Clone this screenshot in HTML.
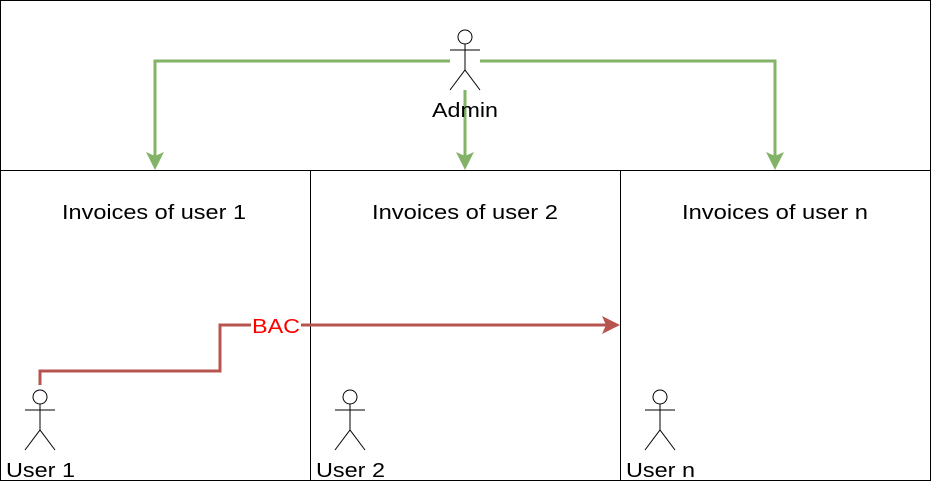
<!DOCTYPE html>
<html><head><style>
html,body{margin:0;padding:0;background:#fff;}
svg{display:block;}
text{font-family:"Liberation Sans",Arial,sans-serif;font-size:20px;}
</style></head><body>
<svg width="931" height="486" viewBox="0 0 931 486" xmlns="http://www.w3.org/2000/svg">
<g fill="#fff" stroke="#000" stroke-width="1">
<rect x="0.5" y="0.5" width="930" height="170"/>
<rect x="0.5" y="170.5" width="310" height="310"/>
<rect x="310.5" y="170.5" width="310" height="310"/>
<rect x="620.5" y="170.5" width="310" height="310"/>
</g>
<g fill="#000">
<text x="62" y="219" textLength="184" lengthAdjust="spacingAndGlyphs">Invoices of user 1</text>
<text x="372" y="219" textLength="186" lengthAdjust="spacingAndGlyphs">Invoices of user 2</text>
<text x="682" y="219" textLength="186" lengthAdjust="spacingAndGlyphs">Invoices of user n</text>
</g>
<g stroke="#82b366" stroke-width="3" fill="none">
<polyline points="450,61 155,61 155,156"/>
<polyline points="480,61 775,61 775,156"/>
<line x1="465" y1="90" x2="465" y2="156"/>
</g>
<g fill="#82b366">
<polygon points="146,152 155,170 164,152 155,156"/>
<polygon points="766,152 775,170 784,152 775,156"/>
<polygon points="456,152 465,170 474,152 465,156"/>
</g>
<polyline points="40,385 40,371 220,371 220,325 612,325" stroke="#b85450" stroke-width="3" fill="none"/>
<polygon points="602,316 620,325 602,334 606,325" fill="#b85450"/>
<rect x="251" y="314" width="50" height="22" fill="#fff"/>
<text x="252" y="333" textLength="48" lengthAdjust="spacingAndGlyphs" fill="#ff0000">BAC</text>
<g stroke="#000" stroke-width="1" fill="#fff">
<circle cx="465" cy="37" r="7"/>
<line x1="465" y1="44" x2="465" y2="70"/><line x1="450" y1="50" x2="480" y2="50"/>
<polyline points="450,90 465,70 480,90" fill="none"/>
<circle cx="40" cy="397" r="7"/>
<line x1="40" y1="404" x2="40" y2="430"/><line x1="25" y1="410" x2="55" y2="410"/>
<polyline points="25,450 40,430 55,450" fill="none"/>
<circle cx="350" cy="397" r="7"/>
<line x1="350" y1="404" x2="350" y2="430"/><line x1="335" y1="410" x2="365" y2="410"/>
<polyline points="335,450 350,430 365,450" fill="none"/>
<circle cx="660" cy="397" r="7"/>
<line x1="660" y1="404" x2="660" y2="430"/><line x1="645" y1="410" x2="675" y2="410"/>
<polyline points="645,450 660,430 675,450" fill="none"/>
</g>
<g fill="#000">
<text x="432" y="117" textLength="66" lengthAdjust="spacingAndGlyphs">Admin</text>
<text x="6" y="477" textLength="69" lengthAdjust="spacingAndGlyphs">User 1</text>
<text x="316" y="477" textLength="69" lengthAdjust="spacingAndGlyphs">User 2</text>
<text x="626" y="477" textLength="69" lengthAdjust="spacingAndGlyphs">User n</text>
</g>
</svg>
</body></html>
